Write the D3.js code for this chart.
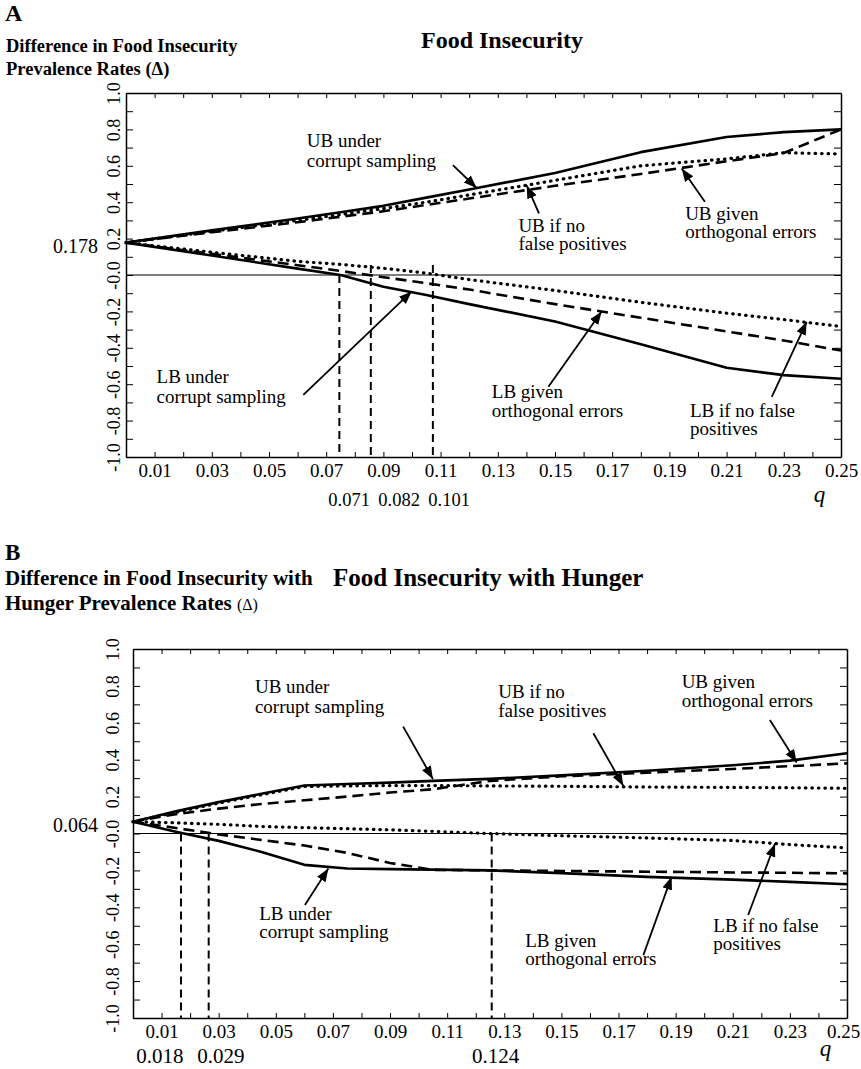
<!DOCTYPE html>
<html>
<head>
<meta charset="utf-8">
<script src="https://cdn.jsdelivr.net/npm/d3@7"></script>
<style>
  body { margin: 0; background: #fff; }
  svg text { font-family: "Liberation Serif", "Times New Roman", serif; fill: #000; }
</style>
</head>
<body>
<div id="chart"></div>
<script>
// ---- panel A: food insecurity ----
var qA = [0, 0.03, 0.06, 0.075, 0.09, 0.105, 0.12, 0.15, 0.18, 0.21, 0.23, 0.25];
var ubCorruptA    = [0.178, 0.245, 0.31, 0.345, 0.38, 0.425, 0.47, 0.56, 0.675, 0.758, 0.785, 0.80];
var ubNoFalsePosA = [0.178, 0.24, 0.30, 0.332, 0.365, 0.40, 0.44, 0.52, 0.60, 0.638, 0.672, 0.665];
var ubOrthA       = [0.178, 0.235, 0.29, 0.32, 0.35, 0.385, 0.42, 0.49, 0.555, 0.625, 0.67, 0.80];
var lbCorruptA    = [0.178, 0.107, 0.035, 0.0, -0.065, -0.11, -0.16, -0.255, -0.38, -0.51, -0.55, -0.57];
var lbOrthA       = [0.178, 0.116, 0.054, 0.022, -0.012, -0.045, -0.08, -0.16, -0.235, -0.31, -0.36, -0.415];
var lbNoFalsePosA = [0.178, 0.125, 0.075, 0.058, 0.037, 0.01, -0.025, -0.085, -0.15, -0.21, -0.245, -0.283];
var crossA = [0.0746, 0.0856, 0.1073];
var crossTopA = [0.0, 0.055, 0.055];
var crossLabelsA = ["0.071", "0.082", "0.101"];
var startA = 0.178;

// ---- panel B: food insecurity with hunger ----
var qB = [0, 0.015, 0.03, 0.045, 0.06, 0.075, 0.09, 0.105, 0.125, 0.15, 0.18, 0.21, 0.23, 0.25];
var ubCorruptB    = [0.064, 0.12, 0.17, 0.215, 0.26, 0.268, 0.276, 0.285, 0.296, 0.315, 0.34, 0.37, 0.395, 0.435];
var ubNoFalsePosB = [0.064, 0.115, 0.165, 0.21, 0.255, 0.258, 0.26, 0.26, 0.258, 0.256, 0.252, 0.25, 0.248, 0.245];
var ubOrthB       = [0.064, 0.105, 0.135, 0.16, 0.18, 0.20, 0.222, 0.24, 0.285, 0.31, 0.33, 0.35, 0.365, 0.38];
var lbCorruptB    = [0.064, 0.01, -0.04, -0.1, -0.17, -0.19, -0.193, -0.196, -0.2, -0.215, -0.235, -0.25, -0.262, -0.275];
var lbOrthB       = [0.064, 0.03, -0.005, -0.035, -0.065, -0.105, -0.16, -0.197, -0.2, -0.203, -0.207, -0.211, -0.213, -0.216];
var lbNoFalsePosB = [0.064, 0.058, 0.05, 0.038, 0.032, 0.026, 0.02, 0.012, 0.0, -0.012, -0.024, -0.038, -0.06, -0.078];
var crossB = [0.0168, 0.0265, 0.1256];
var crossTopB = [0, 0, 0];
var crossLabelsB = ["0.018", "0.029", "0.124"];
var startB = 0.064;

// axis ticks
var xTicks = d3.range(1, 25).map(function(d){ return d / 100; });
var yTicks = d3.range(-10, 11).map(function(d){ return d / 10; });

var width = 861, height = 1069;
var svg = d3.select("#chart").append("svg")
    .attr("width", width).attr("height", height)
    .style("background", "#fff");

var lineStyles = {
  solid:  { dash: null, cap: "butt", w: 2.6 },
  dashed: { dash: "11,6", cap: "butt", w: 2.6 },
  dotted: { dash: "0.5,6", cap: "round", w: 3.2 }
};

svg.append("defs").append("marker")
    .attr("id", "head").attr("markerUnits", "userSpaceOnUse")
    .attr("markerWidth", 14).attr("markerHeight", 12)
    .attr("refX", 13).attr("refY", 5).attr("orient", "auto")
  .append("path").attr("d", "M0,0 L13,5 L0,10 Z").attr("fill", "#000");

function drawPanel(p) {
  var g = svg.append("g");
  var x = d3.scaleLinear().domain([0, 0.25]).range([p.left, p.right]);
  var y = d3.scaleLinear().domain([-1, 1]).range([p.bottom, p.top]);

  // zero line
  g.append("line")
      .attr("x1", x(0)).attr("x2", x(0.25)).attr("y1", y(0)).attr("y2", y(0))
      .attr("stroke", "#000").attr("stroke-width", 1.2);

  // axes, ticks pointing inward
  var odd = function(d){ return Math.round(d * 100) % 2 === 1; };
  var xb = g.append("g").attr("transform", "translate(0," + p.bottom + ")")
      .call(d3.axisBottom(x).tickValues(xTicks.concat([0.25])).tickSize(-5).tickSizeOuter(0)
        .tickPadding(p.xPad)
        .tickFormat(function(d){ return odd(d) ? d3.format(".2f")(d) : ""; }));
  xb.selectAll(".tick").filter(function(d){ return d === 0.25; }).select("line").remove();
  xb.selectAll("text").attr("font-size", 19).attr("font-family", null);
  // keep the last label inside the picture
  xb.selectAll(".tick").filter(function(d){ return d === 0.25; }).select("text")
      .attr("dx", Math.min(0, width - 1 - (p.right + 17)));

  g.append("g").attr("transform", "translate(0," + p.top + ")")
      .call(d3.axisTop(x).tickValues(xTicks).tickSize(-5).tickSizeOuter(0).tickFormat(""));

  var yl = g.append("g").attr("transform", "translate(" + p.left + ",0)")
      .call(d3.axisLeft(y).tickValues(yTicks).tickSize(-7).tickSizeOuter(0)
        .tickFormat(function(d){
          if (Math.round(d * 10) % 2 !== 0) return "";
          return d === 0 ? "-0.0" : d3.format(".1f")(d).replace("\u2212", "-");
        }));
  yl.selectAll("text")
      .attr("transform", "rotate(-90)").attr("x", 0).attr("y", -p.yGap).attr("dy", 0)
      .attr("text-anchor", "middle").attr("font-size", 18).attr("font-family", null);

  g.append("g").attr("transform", "translate(" + p.right + ",0)")
      .call(d3.axisRight(y).tickValues(yTicks).tickSize(-7).tickSizeOuter(0).tickFormat(""));

  g.selectAll(".domain").attr("stroke-width", 1.5);
  g.selectAll(".tick line").attr("stroke-width", 1);

  // vertical dashed lines at the zero crossings
  p.cross.forEach(function(c, i){
    g.append("line")
        .attr("x1", x(c)).attr("x2", x(c))
        .attr("y1", y(p.crossTop[i])).attr("y2", y(-1))
        .attr("stroke", "#000").attr("stroke-width", 2).attr("stroke-dasharray", "8,5");
    g.append("text")
        .attr("x", x(p.crossLabelQ[i])).attr("y", p.bottom + p.crossDy)
        .attr("text-anchor", "middle").attr("font-size", p.crossSize)
        .text(p.crossLabels[i]);
  });

  // bound curves
  p.series.forEach(function(s){
    var st = lineStyles[s.style];
    var line = d3.line().x(function(d, i){ return x(p.q[i]); }).y(function(d){ return y(d); });
    g.append("path").datum(s.values)
        .attr("d", line).attr("fill", "none").attr("stroke", "#000")
        .attr("stroke-width", st.w).attr("stroke-dasharray", st.dash)
        .attr("stroke-linecap", st.cap).attr("stroke-linejoin", "round");
  });

  // starting value label
  g.append("text")
      .attr("x", p.left - p.startGap).attr("y", y(p.start) + 10)
      .attr("text-anchor", "end").attr("font-size", 20)
      .text(d3.format(".3f")(p.start));

  // q label
  g.append("text")
      .attr("x", x(0.2405)).attr("y", p.bottom + p.qDy)
      .attr("font-size", 23).attr("font-style", "italic").text("q");

  // annotations with arrows
  p.notes.forEach(function(n){
    var t = g.append("text").attr("font-size", 19);
    n.lines.forEach(function(l, i){
      t.append("tspan").attr("x", x(n.tq)).attr("y", y(n.tb[i])).text(l);
    });
    g.append("line")
        .attr("x1", x(n.from[0])).attr("y1", y(n.from[1]))
        .attr("x2", x(n.to[0])).attr("y2", y(n.to[1]))
        .attr("stroke", "#000").attr("stroke-width", 1.8)
        .attr("marker-end", "url(#head)");
  });
}

drawPanel({
  left: 126, right: 841, top: 93, bottom: 457,
  xPad: 7, yGap: 6, startGap: 28, qDy: 45,
  q: qA, start: startA,
  cross: crossA, crossTop: crossTopA, crossLabels: crossLabelsA,
  crossLabelQ: [0.0780, 0.0955, 0.1130], crossDy: 49, crossSize: 18.5,
  series: [
    { values: ubCorruptA, style: "solid" },
    { values: ubNoFalsePosA, style: "dotted" },
    { values: ubOrthA, style: "dashed" },
    { values: lbCorruptA, style: "solid" },
    { values: lbOrthA, style: "dashed" },
    { values: lbNoFalsePosA, style: "dotted" }
  ],
  notes: [
    { lines: ["UB under", "corrupt sampling"], tq: 0.0632, tb: [0.705, 0.595], from: [0.1143, 0.604], to: [0.1226, 0.478] },
    { lines: ["UB if no", "false positives"], tq: 0.1372, tb: [0.238, 0.137], from: [0.1444, 0.339], to: [0.1401, 0.492] },
    { lines: ["UB given", "orthogonal errors"], tq: 0.1955, tb: [0.302, 0.202], from: [0.2024, 0.403], to: [0.1943, 0.585] },
    { lines: ["LB under", "corrupt sampling"], tq: 0.0107, tb: [-0.595, -0.705], from: [0.062, -0.659], to: [0.0999, -0.09] },
    { lines: ["LB given", "orthogonal errors"], tq: 0.1279, tb: [-0.677, -0.779], from: [0.1477, -0.614], to: [0.1663, -0.2] },
    { lines: ["LB if no false", "positives"], tq: 0.1972, tb: [-0.779, -0.879], from: [0.2258, -0.669], to: [0.238, -0.257] }
  ]
});

drawPanel({
  left: 133, right: 847, top: 649, bottom: 1018,
  xPad: 7, yGap: 14, startGap: 35, qDy: 38,
  q: qB, start: startB,
  cross: crossB, crossTop: crossTopB, crossLabels: crossLabelsB,
  crossLabelQ: [0.00945, 0.0308, 0.127], crossDy: 45, crossSize: 21,
  series: [
    { values: ubCorruptB, style: "solid" },
    { values: ubNoFalsePosB, style: "dotted" },
    { values: ubOrthB, style: "dashed" },
    { values: lbCorruptB, style: "solid" },
    { values: lbOrthB, style: "dashed" },
    { values: lbNoFalsePosB, style: "dotted" }
  ],
  notes: [
    { lines: ["UB under", "corrupt sampling"], tq: 0.0427, tb: [0.76, 0.651], from: [0.0946, 0.579], to: [0.105, 0.295] },
    { lines: ["UB if no", "false positives"], tq: 0.1279, tb: [0.733, 0.633], from: [0.1612, 0.543], to: [0.1717, 0.258] },
    { lines: ["UB given", "orthogonal errors"], tq: 0.1921, tb: [0.787, 0.687], from: [0.223, 0.615], to: [0.2324, 0.385] },
    { lines: ["LB under", "corrupt sampling"], tq: 0.0442, tb: [-0.469, -0.568], from: [0.0602, -0.388], to: [0.0684, -0.19] },
    { lines: ["LB given", "orthogonal errors"], tq: 0.1373, tb: [-0.614, -0.713], from: [0.1787, -0.659], to: [0.1886, -0.234] },
    { lines: ["LB if no false", "positives"], tq: 0.2032, tb: [-0.532, -0.631], from: [0.2154, -0.442], to: [0.2248, -0.055] }
  ]
});

// headings
function label(txt, x, y, size, weight) {
  return svg.append("text").attr("x", x).attr("y", y)
      .attr("font-size", size).attr("font-weight", weight || "bold").text(txt);
}
label("A", 5, 21, 24);
label("Difference in Food Insecurity", 6, 52, 18.5);
label("Prevalence Rates (\u0394)", 6, 75, 18.5);
label("Food Insecurity", 421, 48, 24);

label("B", 5, 560, 23);
label("Difference in Food Insecurity with", 5, 585, 21);
var h = label("Hunger Prevalence Rates ", 5, 610, 21);
h.append("tspan").attr("font-size", 16).attr("font-weight", "normal").text("(\u0394)");
label("Food Insecurity with Hunger", 333, 586, 25);
</script>
</body>
</html>
